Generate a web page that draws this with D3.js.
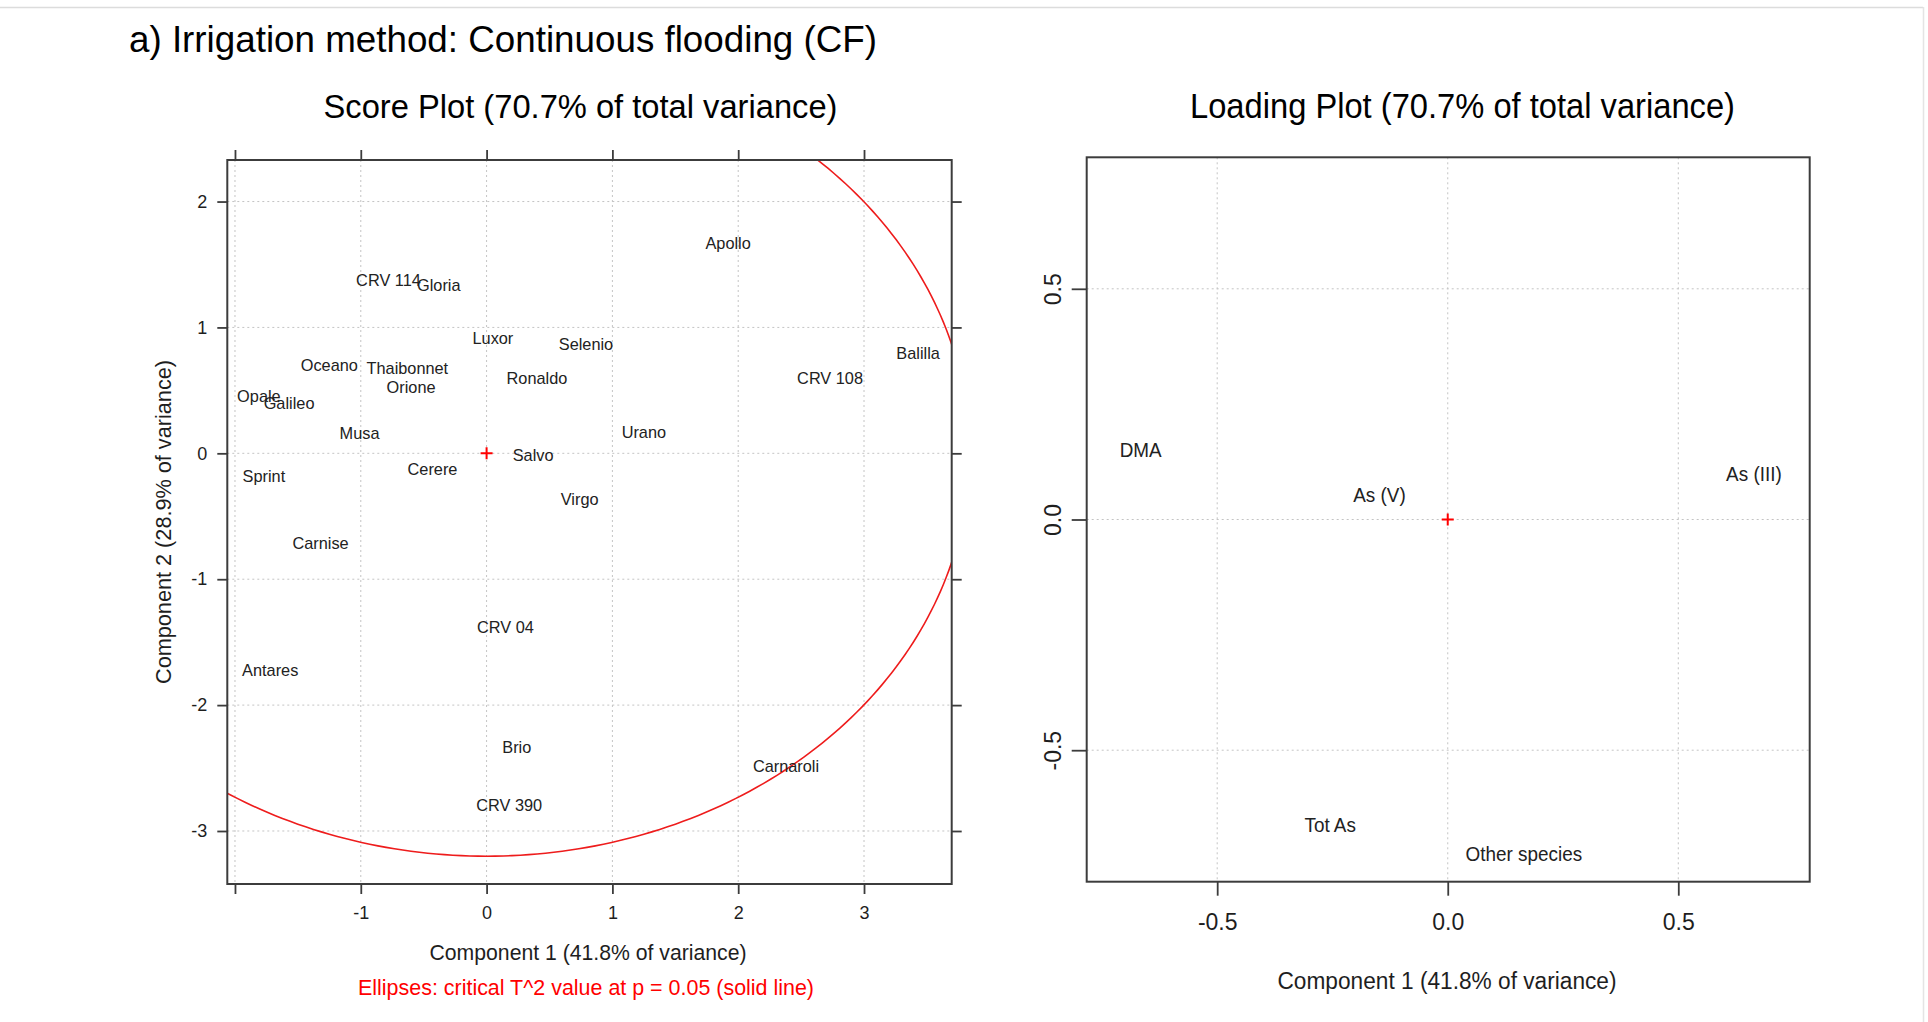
<!DOCTYPE html>
<html>
<head>
<meta charset="utf-8">
<script src="https://cdn.jsdelivr.net/npm/d3@7"></script>
<style>
  html, body { margin: 0; padding: 0; background: #fff; }
  svg { display: block; font-family: "Liberation Sans", Arial, Helvetica, sans-serif; }
</style>
</head>
<body>
<svg id="chart" width="1928" height="1022"></svg>
<script>
// Score plot: cultivar scores on the first two principal components
const cultivars = ["Apollo", "CRV 114", "Gloria", "Luxor", "Selenio", "Oceano", "Thaibonnet", "Orione",
  "Ronaldo", "Balilla", "CRV 108", "Opale", "Galileo", "Musa", "Urano", "Salvo", "Cerere", "Sprint",
  "Virgo", "Carnise", "CRV 04", "Antares", "Brio", "Carnaroli", "CRV 390"];
const scorePC1 = [1.92, -0.78, -0.38, 0.05, 0.79, -1.25, -0.63, -0.60,
  0.40, 3.43, 2.73, -1.81, -1.57, -1.01, 1.25, 0.37, -0.43, -1.77,
  0.74, -1.32, 0.15, -1.72, 0.24, 2.38, 0.18];
const scorePC2 = [1.67, 1.38, 1.34, 0.92, 0.87, 0.70, 0.68, 0.53,
  0.60, 0.80, 0.60, 0.46, 0.40, 0.16, 0.17, -0.01, -0.12, -0.18,
  -0.36, -0.71, -1.38, -1.72, -2.33, -2.48, -2.79];

// Loading plot: arsenic species loadings
const species = ["DMA", "As (V)", "As (III)", "Tot As", "Other species"];
const loadingPC1 = [-0.666, -0.148, 0.664, -0.255, 0.165];
const loadingPC2 = [0.151, 0.054, 0.099, -0.661, -0.724];

// Critical T^2 ellipse (p = 0.05) semi-axes on component 1 and 2
const ellipseRadii = [3.84, 3.20];

// Axis ticks
const scoreXTicks = [-2, -1, 0, 1, 2, 3];
const scoreXTickLabels = ["", "-1", "0", "1", "2", "3"];
const scoreYTicks = [-3, -2, -1, 0, 1, 2];
const scoreYTickLabels = ["-3", "-2", "-1", "0", "1", "2"];
const loadingTicks = [-0.5, 0, 0.5];
const loadingTickLabels = ["-0.5", "0.0", "0.5"];

const svg = d3.select("#chart");
const ink = "#1e1e1e";
const frame = "#3c3c3c";
const gridCol = "#c4c4c4";

// page border
svg.append("line").attr("x1", 0).attr("x2", 1923).attr("y1", 7.5).attr("y2", 7.5)
  .attr("stroke", "#dcdcdc").attr("stroke-width", 1.5);
svg.append("line").attr("x1", 1923.5).attr("x2", 1923.5).attr("y1", 7).attr("y2", 1022)
  .attr("stroke", "#e4e4e4").attr("stroke-width", 1.5);

// main heading
svg.append("text").attr("x", 129).attr("y", 52)
  .attr("font-size", 37).attr("fill", "#000")
  .attr("textLength", 748).attr("lengthAdjust", "spacingAndGlyphs")
  .text("a) Irrigation method: Continuous flooding (CF)");

/* ---------------- Score plot ---------------- */
const sx = d3.scaleLinear().domain([-2.061, 3.697]).range([227.3, 951.7]);
const sy = d3.scaleLinear().domain([-3.421, 2.330]).range([884, 160]);

const score = svg.append("g");

score.append("text").attr("x", 323.5).attr("y", 118)
  .attr("font-size", 33).attr("fill", "#000")
  .attr("textLength", 514).attr("lengthAdjust", "spacingAndGlyphs")
  .text("Score Plot (70.7% of total variance)");

// grid
const sGrid = score.append("g").attr("stroke", gridCol).attr("stroke-width", 1)
  .attr("stroke-dasharray", "2,3");
sGrid.selectAll("line.v").data(scoreXTicks).join("line").attr("class", "v")
  .attr("x1", d => sx(d)).attr("x2", d => sx(d)).attr("y1", sy.range()[1]).attr("y2", sy.range()[0]);
sGrid.selectAll("line.h").data(scoreYTicks).join("line").attr("class", "h")
  .attr("y1", d => sy(d)).attr("y2", d => sy(d)).attr("x1", sx.range()[0]).attr("x2", sx.range()[1]);

// clip for the ellipse
svg.append("defs").append("clipPath").attr("id", "scoreClip")
  .append("rect").attr("x", sx.range()[0]).attr("y", sy.range()[1])
  .attr("width", sx.range()[1] - sx.range()[0]).attr("height", sy.range()[0] - sy.range()[1]);

const angles = d3.range(0, 361).map(d => d * Math.PI / 180);
const ellipseLine = d3.line()
  .x(t => sx(ellipseRadii[0] * Math.cos(t)))
  .y(t => sy(ellipseRadii[1] * Math.sin(t)));
score.append("path").attr("clip-path", "url(#scoreClip)")
  .attr("d", ellipseLine(angles))
  .attr("fill", "none").attr("stroke", "#ee1c1c").attr("stroke-width", 1.6);

// axes
function styleAxis(g, fontSize) {
  g.select(".domain").remove();
  g.selectAll(".tick line").attr("stroke", frame).attr("stroke-width", 1.8);
  g.selectAll(".tick text").attr("fill", ink).attr("font-size", fontSize)
    .attr("font-family", "Liberation Sans, Arial, sans-serif");
}
score.append("g").attr("transform", `translate(0,${sy.range()[0]})`)
  .call(d3.axisBottom(sx).tickValues(scoreXTicks).tickSize(10).tickSizeOuter(0).tickPadding(12)
    .tickFormat((d, i) => scoreXTickLabels[i]))
  .call(g => styleAxis(g, 18));
score.append("g").attr("transform", `translate(${sx.range()[0]},0)`)
  .call(d3.axisLeft(sy).tickValues(scoreYTicks).tickSize(10).tickSizeOuter(0).tickPadding(10)
    .tickFormat((d, i) => scoreYTickLabels[i]))
  .call(g => styleAxis(g, 18));
score.append("g").attr("transform", `translate(0,${sy.range()[1]})`)
  .call(d3.axisTop(sx).tickValues(scoreXTicks).tickSize(10).tickSizeOuter(0).tickFormat(""))
  .call(g => styleAxis(g, 18));
score.append("g").attr("transform", `translate(${sx.range()[1]},0)`)
  .call(d3.axisRight(sy).tickValues(scoreYTicks).tickSize(10).tickSizeOuter(0).tickFormat(""))
  .call(g => styleAxis(g, 18));

score.append("rect").attr("x", sx.range()[0]).attr("y", sy.range()[1])
  .attr("width", sx.range()[1] - sx.range()[0]).attr("height", sy.range()[0] - sy.range()[1])
  .attr("fill", "none").attr("stroke", frame).attr("stroke-width", 2);

// origin marker
score.append("path").attr("transform", `translate(${sx(0)},${sy(0)})`)
  .attr("d", "M-6,0H6M0,-6V6").attr("stroke", "#ff0000").attr("stroke-width", 2);

// cultivar labels
score.append("g").selectAll("text").data(cultivars).join("text")
  .attr("transform", (d, i) => `translate(${sx(scorePC1[i])},${sy(scorePC2[i])}) scale(0.96,1)`)
  .attr("text-anchor", "middle").attr("dy", "0.36em")
  .attr("font-size", 17).attr("fill", "#222")
  .text(d => d);

// axis titles
score.append("text").attr("x", 588).attr("y", 960)
  .attr("text-anchor", "middle").attr("font-size", 22).attr("fill", ink)
  .attr("textLength", 317).attr("lengthAdjust", "spacingAndGlyphs")
  .text("Component 1 (41.8% of variance)");
score.append("text").attr("transform", "translate(171,522) rotate(-90)")
  .attr("text-anchor", "middle").attr("font-size", 22).attr("fill", ink)
  .attr("textLength", 324).attr("lengthAdjust", "spacingAndGlyphs")
  .text("Component 2 (28.9% of variance)");
score.append("text").attr("x", 586).attr("y", 995)
  .attr("text-anchor", "middle").attr("font-size", 21.5).attr("fill", "#ff0000")
  .attr("textLength", 456).attr("lengthAdjust", "spacingAndGlyphs")
  .text("Ellipses: critical T^2 value at p = 0.05 (solid line)");

/* ---------------- Loading plot ---------------- */
const lx = d3.scaleLinear().domain([-0.783, 0.785]).range([1086.7, 1809.7]);
const ly = d3.scaleLinear().domain([-0.785, 0.785]).range([881.7, 157.3]);

const load = svg.append("g");

load.append("text").attr("x", 1190).attr("y", 118)
  .attr("font-size", 34.5).attr("fill", "#000")
  .attr("textLength", 545).attr("lengthAdjust", "spacingAndGlyphs")
  .text("Loading Plot (70.7% of total variance)");

const lGrid = load.append("g").attr("stroke", gridCol).attr("stroke-width", 1)
  .attr("stroke-dasharray", "2,3");
lGrid.selectAll("line.v").data(loadingTicks).join("line").attr("class", "v")
  .attr("x1", d => lx(d)).attr("x2", d => lx(d)).attr("y1", ly.range()[1]).attr("y2", ly.range()[0]);
lGrid.selectAll("line.h").data(loadingTicks).join("line").attr("class", "h")
  .attr("y1", d => ly(d)).attr("y2", d => ly(d)).attr("x1", lx.range()[0]).attr("x2", lx.range()[1]);

load.append("g").attr("transform", `translate(0,${ly.range()[0]})`)
  .call(d3.axisBottom(lx).tickValues(loadingTicks).tickSize(14).tickSizeOuter(0).tickPadding(18)
    .tickFormat((d, i) => loadingTickLabels[i]))
  .call(g => styleAxis(g, 23));
const lLeft = load.append("g").attr("transform", `translate(${lx.range()[0]},0)`)
  .call(d3.axisLeft(ly).tickValues(loadingTicks).tickSize(15).tickSizeOuter(0)
    .tickFormat((d, i) => loadingTickLabels[i]))
  .call(g => styleAxis(g, 23));
// vertical tick labels, reading upward
lLeft.selectAll(".tick text")
  .attr("x", null).attr("dy", null)
  .attr("text-anchor", "middle")
  .attr("transform", "translate(-34,0) rotate(-90)")
  .attr("dy", "0.36em");

load.append("rect").attr("x", lx.range()[0]).attr("y", ly.range()[1])
  .attr("width", lx.range()[1] - lx.range()[0]).attr("height", ly.range()[0] - ly.range()[1])
  .attr("fill", "none").attr("stroke", frame).attr("stroke-width", 2);

load.append("path").attr("transform", `translate(${lx(0)},${ly(0)})`)
  .attr("d", "M-6,0H6M0,-6V6").attr("stroke", "#ff0000").attr("stroke-width", 2);

load.append("g").selectAll("text").data(species).join("text")
  .attr("transform", (d, i) => `translate(${lx(loadingPC1[i])},${ly(loadingPC2[i])}) scale(0.9,1)`)
  .attr("text-anchor", "middle").attr("dy", "0.36em")
  .attr("font-size", 21).attr("fill", "#222")
  .text(d => d);

load.append("text").attr("x", 1447).attr("y", 989)
  .attr("text-anchor", "middle").attr("font-size", 23).attr("fill", ink)
  .attr("textLength", 339).attr("lengthAdjust", "spacingAndGlyphs")
  .text("Component 1 (41.8% of variance)");
</script>
</body>
</html>
